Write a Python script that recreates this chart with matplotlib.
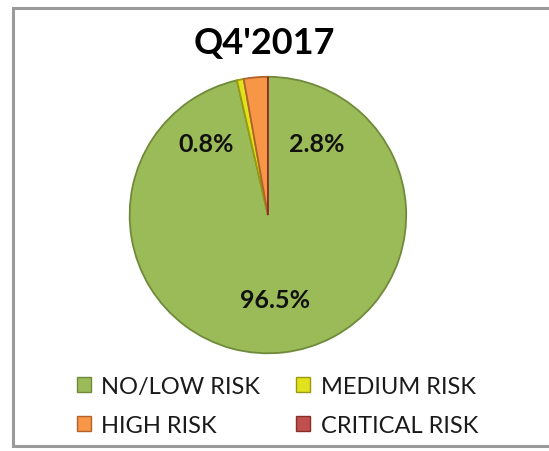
import matplotlib.pyplot as plt
from matplotlib.patches import Rectangle, Patch

# ==============================
# Data
# ==============================
categories = ["NO/LOW RISK", "MEDIUM RISK", "HIGH RISK", "CRITICAL RISK"]
shares = [96.5, 0.8, 2.8, 0.0]
pct_labels = ["96.5%", "0.8%", "2.8%", ""]
colors = ["#9BBB59", "#E2E21C", "#F79646", "#C0504D"]
edge_colors = ["#6F8A3A", "#9A9A10", "#B0622A", "#8A2E2C"]
title = "Q4'2017"

plt.rcParams['font.family'] = ['Lato', 'DejaVu Sans']

fig = plt.figure(figsize=(5.49, 4.52), dpi=100)

# chart frame (behind everything)
fig.patches.append(Rectangle((13 / 549, 5 / 452), 1.0, 438 / 452,
                             transform=fig.transFigure, facecolor="white",
                             edgecolor="#9A9A9A", linewidth=2.2, zorder=-5))

ax = fig.add_axes([0.231, 0.210, 0.514, 0.624])
ax.patch.set_alpha(0)
wedges, _ = ax.pie(shares, colors=colors, startangle=90, counterclock=False,
                   wedgeprops=dict(linewidth=1.3))
for w, ec in zip(wedges, edge_colors):
    w.set_edgecolor(ec)
ax.set_aspect("equal")
ax.set_xlim(-1.02, 1.02)
ax.set_ylim(-1.02, 1.02)

# data labels (placed like the Excel best-fit labels)
label_pos = [(0.05, -0.61), (-0.45, 0.52), (0.35, 0.52), None]
for txt, pos in zip(pct_labels, label_pos):
    if pos is None or not txt:
        continue
    ax.text(pos[0], pos[1], txt, ha="center", va="center",
            fontsize=18, fontweight="bold", color="#111111")

fig.text(0.481, 0.903, title, ha="center", va="center",
         fontsize=26, fontweight="bold", color="black")

handles = [Patch(facecolor=c, edgecolor=e) for c, e in zip(colors, edge_colors)]
# order so that rows read: NO/LOW, MEDIUM / HIGH, CRITICAL
order = [0, 2, 1, 3]
fig.legend([handles[i] for i in order], [categories[i] for i in order],
           ncol=2, loc="center", bbox_to_anchor=(0.505, 0.100), frameon=False,
           fontsize=17, handlelength=0.6, handleheight=0.6, handletextpad=0.45,
           columnspacing=1.5, labelspacing=0.75, labelcolor="#1a1a1a")

fig.savefig("out.png", dpi=100)
